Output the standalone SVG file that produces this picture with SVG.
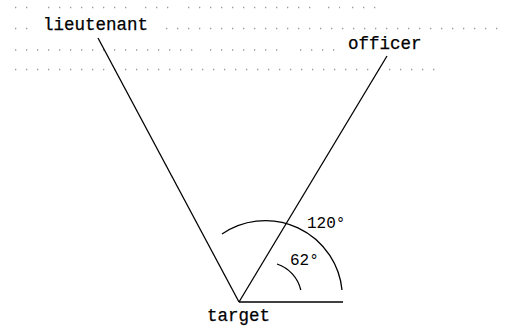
<svg xmlns="http://www.w3.org/2000/svg" width="507" height="331" viewBox="0 0 507 331">
<style>
.dots line{stroke:#9a9a9a;stroke-width:1.3;stroke-dasharray:1.3 9.7;}
.edge{stroke:#000;stroke-width:1.3;fill:none;}
.lbl{font-family:"Liberation Mono","Courier New",monospace;font-size:17.5px;fill:#000;stroke:#000;stroke-width:0.25;}
.deg{font-family:"Liberation Mono","Courier New",monospace;font-size:16px;fill:#000;}
</style>
<rect width="507" height="331" fill="#fff"/>
<g class="dots">
<line x1="15" y1="7.5" x2="30" y2="7.5"/>
<line x1="48" y1="7.5" x2="130" y2="7.5"/>
<line x1="145" y1="7.5" x2="170" y2="7.5"/>
<line x1="188" y1="7.5" x2="312" y2="7.5"/>
<line x1="328" y1="7.5" x2="340" y2="7.5"/>
<line x1="352" y1="7.5" x2="378" y2="7.5"/>
<line x1="15" y1="28.5" x2="30" y2="28.5"/>
<line x1="166" y1="28.5" x2="505" y2="28.5"/>
<line x1="15" y1="50" x2="200" y2="50"/>
<line x1="210" y1="50" x2="280" y2="50"/>
<line x1="300" y1="50" x2="342" y2="50"/>
<line x1="15" y1="69.5" x2="440" y2="69.5"/>
</g>
<g id="connectors">
<line class="edge" x1="98" y1="38" x2="239" y2="302"/>
<line class="edge" x1="387" y1="56" x2="239" y2="302"/>
<line class="edge" x1="239" y1="302" x2="343" y2="302"/>
<path class="edge" d="M222,234 A77,77 0 0 1 342,290"/>
<path class="edge" d="M277,264 A36,36 0 0 1 300.8,290"/>
</g>
<g id="lieutenant"><text class="lbl" x="43" y="30">lieutenant</text></g>
<g id="officer"><text class="lbl" x="348" y="49">officer</text></g>
<g id="target"><text class="lbl" x="207" y="321">target</text></g>
<g id="angle120"><text class="deg" x="307" y="228">120°</text></g>
<g id="angle62"><text class="deg" x="290" y="265">62°</text></g>
</svg>
